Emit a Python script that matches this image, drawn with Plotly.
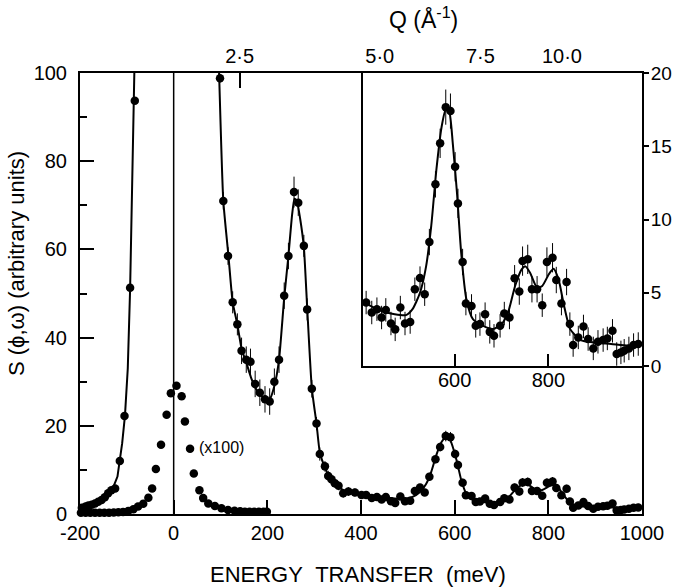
import numpy as np
import plotly.graph_objects as go

# ---------------- data ----------------
# neutron energy-loss side (negative energy transfer), markers
loss_E = [-196, -188, -182, -175, -168, -161, -154, -147, -140, -133, -125, -115, -105, -93, -83]
loss_S = [1.4, 1.7, 1.9, 2.1, 2.4, 2.8, 3.2, 3.8, 4.7, 5.4, 5.8, 12.0, 22.2, 51.3, 93.7]
# fitted curve through them
loss_fit_E = [-200, -190, -180, -170, -160, -150, -140, -130, -120, -110, -104, -98, -93, -88, -84]
loss_fit_S = [1.2, 1.6, 2.0, 2.4, 2.9, 3.6, 4.6, 5.8, 8.5, 16.0, 22.3, 33.0, 51.0, 75.0, 100.0]

# elastic line scaled x100 (dots only)
elastic_E = [-198, -188, -178, -168, -158, -148, -138, -128, -118, -108, -97, -86, -76, -65,
             -54, -46, -38, -27, -15, -6, 6, 17, 24, 35, 43, 55, 63, 74, 88, 102, 116, 130,
             142, 152, 162, 172, 182, 192, 199]
elastic_S = [0.3, 0.3, 0.3, 0.3, 0.3, 0.3, 0.3, 0.35, 0.4, 0.45, 0.7, 1.1, 1.7, 2.3,
             3.7, 5.8, 10.2, 15.7, 22.5, 27.4, 29.1, 26.7, 21.0, 14.8, 9.2, 5.4, 3.6, 2.4, 1.8, 1.3, 0.9, 0.75,
             0.6, 0.5, 0.5, 0.5, 0.5, 0.5, 0.5]

# energy-gain side data points with error bars
gain_E = [99, 106, 116, 126, 136, 145, 155, 164, 174, 184, 195, 205, 215, 225, 236, 245, 257, 266,
          278, 285, 295, 305, 312, 323, 330, 337, 344, 352, 362, 373, 387, 401,
          411, 423, 434, 444, 453, 464, 473, 484, 494, 505, 515, 526, 536, 546, 559, 569, 581, 591,
          601, 607, 617, 624, 636, 645, 654, 665, 675, 684, 697, 706, 717, 728, 738, 745, 756, 765,
          776, 787, 797, 809, 817, 828, 839, 846, 853, 864, 875, 885, 896, 906, 917, 926, 937, 946,
          955, 962, 972, 982, 992]
gain_S = [98.8, 71.0, 58.5, 48.0, 43.0, 37.0, 35.0, 34.5, 29.5, 27.5, 26.0, 25.5, 30.0, 35.0, 49.5,
          58.5, 73.0, 70.6, 60.8, 46.4, 28.4, 20.5, 13.6, 10.8, 8.6, 7.9, 7.0, 6.4, 4.7, 5.1, 4.9, 4.3,
          4.33, 3.65, 3.88, 3.31, 3.83, 2.9, 2.5, 3.99, 2.9, 3.0, 5.24, 6.0, 4.9, 8.46, 12.4, 15.2,
          17.67, 17.4, 13.6, 11.1, 7.1, 4.26, 4.1, 2.74, 2.86, 3.54, 2.33, 2.06, 2.74, 3.58, 3.31,
          5.99, 5.08, 7.16, 7.28, 5.24, 5.24, 4.15, 7.1, 7.39, 5.87, 4.26, 5.73, 2.86, 1.43, 1.95,
          2.7, 1.84, 1.2, 1.65, 1.77, 1.88, 2.4, 0.82, 0.93, 1.04, 1.2, 1.43, 1.5]
gain_err = [1.0, 2.0, 2.0, 2.5, 2.5, 3.0, 3.0, 3.0, 3.0, 3.0, 3.0, 3.0, 3.0, 3.0, 3.0, 3.0, 3.5, 3.0,
            2.5, 2.5, 2.0, 1.5, 1.5, 1.2, 1.2, 1.0, 1.0, 1.0, 1.0, 1.0, 0.9, 0.9,
            0.8, 0.8, 0.8, 0.8, 0.8, 0.8, 0.8, 0.8, 0.8, 0.8, 0.8, 0.8, 0.8, 0.9, 0.9, 1.0,
            1.2, 1.2, 1.0, 1.0, 0.9, 0.8, 0.8, 0.8, 0.8, 0.8, 0.8, 0.8, 0.8, 0.8, 0.8,
            0.9, 0.9, 1.0, 1.0, 0.9, 0.9, 0.8, 1.0, 1.0, 0.9, 0.8, 0.9, 0.8, 0.8, 0.8,
            0.8, 0.8, 0.8, 0.8, 0.8, 0.8, 0.8, 0.8, 0.8, 0.8, 0.8, 0.8, 0.8]

# fitted curve on the energy-gain side
fit_E = [97, 106, 117, 126, 136, 145, 156, 165, 175, 185, 195, 205, 215, 225, 236, 245, 253, 258,
         263, 270, 278, 285, 295, 305, 312, 323, 335, 350, 365, 380, 395,
         403, 446, 496, 510, 526, 539, 550, 561, 572, 581, 588, 596, 605, 614, 625, 639, 661, 682,
         700, 714, 729, 743, 751, 761, 776, 787, 801, 811, 822, 833, 847, 869, 898, 934, 970, 1000]
fit_S = [100, 71, 58.5, 48, 43, 37.5, 34, 31, 28.5, 27, 26, 26, 29, 35, 49, 58.5, 68, 71.5,
         71, 67, 60.5, 47, 28.5, 20.5, 14, 10.5, 8, 6.4, 5.2, 4.7, 4.4,
         4.4, 3.72, 3.47, 3.88, 5.0, 6.8, 9.56, 13.4, 16.3, 17.5, 17.4, 15.2, 11.8, 7.7, 4.56, 3.2,
         2.74, 2.52, 2.86, 3.65, 5.46, 6.6, 6.8, 6.37, 5.35, 5.46, 6.26, 6.64, 5.9, 4.2, 2.5, 1.77,
         1.6, 1.5, 1.38, 1.43]

# axis tick labels
energy_ticks = [-200, 0, 200, 400, 600, 800, 1000]
energy_labels = ["-200", "0", "200", "400", "600", "800", "1000"]
s_ticks = [0, 20, 40, 60, 80, 100]
q_labels = ["2\u00b75", "5\u00b70", "7\u00b75", "10\u00b70"]
q_tick_E = [141, 440, 655, 829]
inset_x_ticks = [600, 800]
inset_y_ticks = [0, 5, 10, 15, 20]

INSET_EMIN = 404.3

# ---------------- figure ----------------
FONT = "Liberation Sans, Arial, sans-serif"
BLACK = "black"

fig = go.Figure()

fig.add_trace(go.Scatter(x=loss_fit_E, y=loss_fit_S, mode="lines",
                         line=dict(color=BLACK, width=2), xaxis="x", yaxis="y",
                         hoverinfo="skip", showlegend=False))
fig.add_trace(go.Scatter(x=loss_E, y=loss_S, mode="markers",
                         marker=dict(color=BLACK, size=8.5), xaxis="x", yaxis="y",
                         cliponaxis=False, showlegend=False))
fig.add_trace(go.Scatter(x=elastic_E, y=elastic_S, mode="markers",
                         marker=dict(color=BLACK, size=8.5), xaxis="x", yaxis="y",
                         cliponaxis=False, showlegend=False))
fig.add_trace(go.Scatter(x=fit_E, y=fit_S, mode="lines",
                         line=dict(color=BLACK, width=2, shape="spline", smoothing=0.5),
                         xaxis="x", yaxis="y", hoverinfo="skip", showlegend=False))
fig.add_trace(go.Scatter(x=gain_E, y=gain_S, mode="markers",
                         marker=dict(color=BLACK, size=8.5),
                         error_y=dict(type="data", array=gain_err, width=0, thickness=1, color=BLACK),
                         xaxis="x", yaxis="y", cliponaxis=False, showlegend=False))

# dummy trace so that the Q (top) axis is drawn
fig.add_trace(go.Scatter(x=[-200, 1000], y=[None, None], mode="markers", xaxis="x2", yaxis="y",
                         hoverinfo="skip", showlegend=False))

# inset
gE = np.array(gain_E, dtype=float)
gS = np.array(gain_S)
gErr = np.array(gain_err)
m = gE >= INSET_EMIN
fE = np.array(fit_E, dtype=float)
fS = np.array(fit_S)
mf = fE >= INSET_EMIN - 2
fig.add_trace(go.Scatter(x=fE[mf], y=fS[mf], mode="lines",
                         line=dict(color=BLACK, width=2, shape="spline", smoothing=0.6),
                         xaxis="x3", yaxis="y3", hoverinfo="skip", showlegend=False))
fig.add_trace(go.Scatter(x=gE[m], y=gS[m], mode="markers",
                         marker=dict(color=BLACK, size=8.5),
                         error_y=dict(type="data", array=gErr[m], width=0, thickness=1, color=BLACK),
                         xaxis="x3", yaxis="y3", cliponaxis=False, showlegend=False))

tickfont = dict(family=FONT, size=20, color=BLACK)

fig.update_layout(
    width=674, height=588,
    margin=dict(l=80, r=32, t=73, b=74, autoexpand=False),
    paper_bgcolor="white", plot_bgcolor="white",
    showlegend=False,
    font=dict(family=FONT, color=BLACK),
    xaxis=dict(domain=[0, 1], range=[-200, 1000], anchor="y", automargin=False,
               showline=True, linewidth=2, linecolor=BLACK,
               ticks="inside", ticklen=14, tickwidth=1.5, tickcolor=BLACK,
               tickvals=energy_ticks, ticktext=energy_labels, tickfont=tickfont,
               showgrid=False, zeroline=False),
    xaxis2=dict(overlaying="x", side="top", range=[-200, 1000], anchor="y", automargin=False,
                showline=True, linewidth=2, linecolor=BLACK,
                ticks="inside", ticklen=15, tickwidth=1.5, tickcolor=BLACK,
                tickvals=q_tick_E, ticktext=q_labels, tickfont=tickfont,
                showgrid=False, zeroline=False),
    yaxis=dict(domain=[0, 1], range=[0, 100], anchor="x", automargin=False,
               showline=True, linewidth=2, linecolor=BLACK, mirror=True,
               ticks="inside", ticklen=14, tickwidth=1.5, tickcolor=BLACK,
               tickvals=s_ticks, tickfont=tickfont, ticklabelstandoff=7,
               minor=dict(dtick=10, ticks="inside", ticklen=7, tickwidth=1.5, tickcolor=BLACK),
               showgrid=False, zeroline=False),
    xaxis3=dict(domain=[(363 - 80) / 562, 1], range=[INSET_EMIN, 1000], anchor="y3", automargin=False,
                showline=True, linewidth=2, linecolor=BLACK,
                ticks="inside", ticklen=12, tickwidth=1.5, tickcolor=BLACK,
                tickvals=inset_x_ticks, tickfont=tickfont, ticklabelstandoff=-5,
                showgrid=False, zeroline=False),
    yaxis3=dict(domain=[(514 - 366) / 441, 1], range=[0, 20], anchor="x3", side="right", automargin=False,
                showline=True, linewidth=2, linecolor=BLACK, mirror=True,
                ticks="outside", ticklen=5, tickwidth=1.5, tickcolor=BLACK,
                tickvals=inset_y_ticks, tickfont=dict(family=FONT, size=19, color=BLACK),
                ticklabelstandoff=-2,
                showgrid=False, zeroline=False),
    shapes=[dict(type="line", xref="x", yref="y", x0=0, x1=0, y0=0, y1=100,
                 line=dict(color=BLACK, width=1.5))],
    annotations=[
        dict(text="(x100)", xref="x", yref="y", x=50, y=15, xanchor="left", yanchor="middle",
             showarrow=False, font=dict(family=FONT, size=16, color=BLACK)),
        dict(text="Q (\u00c5<sup>-1</sup>)", xref="paper", yref="paper",
             x=(423 - 80) / 562, y=(514 - 18) / 441, xanchor="center", yanchor="middle",
             showarrow=False, font=dict(family=FONT, size=23, color=BLACK)),
        dict(text="ENERGY\u00a0\u00a0TRANSFER\u00a0\u00a0(meV)", xref="paper", yref="paper",
             x=(358 - 80) / 562, y=(514 - 574) / 441, xanchor="center", yanchor="middle",
             showarrow=False, font=dict(family=FONT, size=22, color=BLACK)),
        dict(text="S (\u03d5,\u03c9) (arbitrary units)", xref="paper", yref="paper",
             x=(16 - 80) / 562, y=(514 - 264) / 441, xanchor="center", yanchor="middle",
             textangle=-90, showarrow=False, font=dict(family=FONT, size=22, color=BLACK)),
    ],
)

fig.write_html("out.html", config={"displayModeBar": False},
               post_script="document.body.style.margin='0px';")
